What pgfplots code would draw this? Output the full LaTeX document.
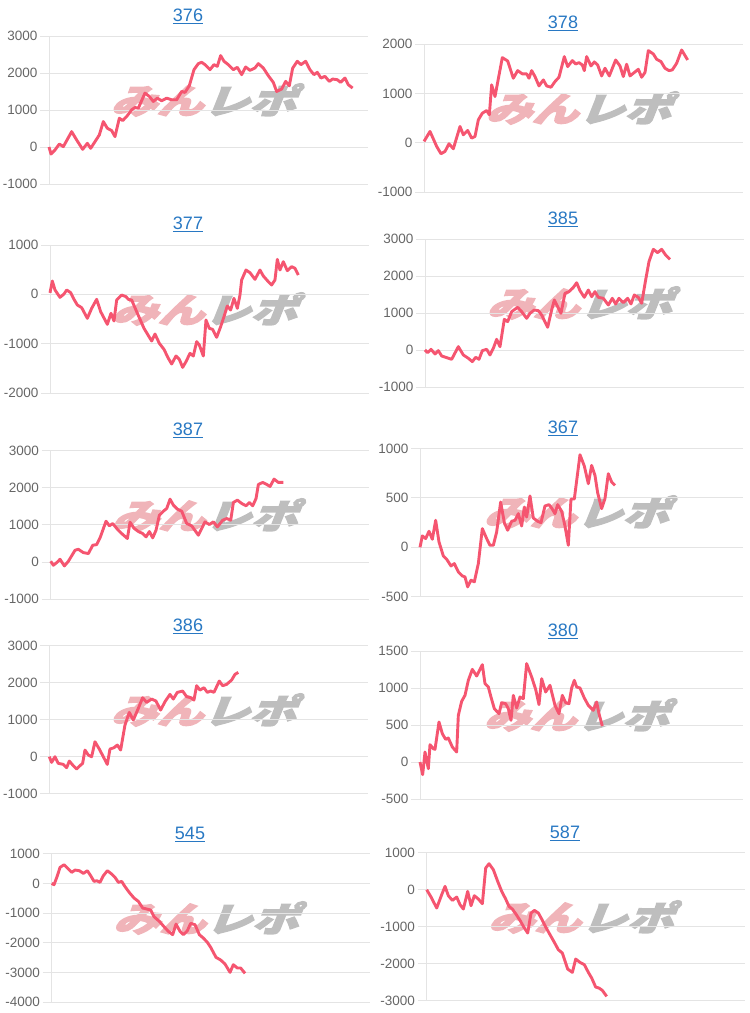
\documentclass[border=0pt]{standalone}
\usepackage{pgfplots}
\pgfplotsset{compat=1.18}
\usepackage{fontspec}
\setmainfont{Liberation Sans}
\newfontfamily\cjk[FakeBold=4]{Noto Sans CJK JP}
\definecolor{linec}{RGB}{245,85,112}
\definecolor{gridc}{RGB}{228,228,228}
\definecolor{zeroc}{RGB}{190,190,190}
\definecolor{labc}{RGB}{102,102,102}
\definecolor{titlec}{RGB}{40,120,195}
\definecolor{wmpink}{RGB}{240,180,185}
\definecolor{wmgray}{RGB}{190,190,190}
\pgfplotsset{mini/.style={scale only axis, anchor=south west,
  axis x line=none, axis y line=left, axis line style={-},
  y axis line style={draw=gridc, line width=0.8pt},
  xtick=\empty, ymajorgrids,
  major grid style={draw=gridc, line width=0.8pt},
  tick align=outside, major tick length=9pt,
  ytick style={draw=gridc, line width=0.8pt},
  yticklabel style={font=\fontsize{13.5}{15}\selectfont, text=labc, inner sep=2.5pt},
  extra y ticks={0}, extra y tick labels={},
  extra y tick style={grid style={draw=zeroc, line width=0.9pt}},
  clip=false},
  dline/.style={linec, line width=2.9pt, line join=round, no markers}}
\newcommand\wm[2]{\node[xslant=0.4, yscale=0.78, xscale=1.05, inner sep=0, font=\cjk\bfseries\fontsize{44}{44}\selectfont] at (#1pt,-#2pt) {\textcolor{wmpink}{みん}\textcolor{wmgray}{レポ}};}
\newcommand\ttl[3]{\node[anchor=base, inner sep=0, text=titlec, font=\fontsize{18}{20}\selectfont] at (#1pt,-#2pt) {\underline{#3}};}
\begin{document}
\begin{tikzpicture}
\useasboundingbox (0,0) rectangle (750pt,-1013pt);
\wm{208.5}{100}
\wm{583.5}{108}
\wm{209.5}{309}
\wm{584.5}{303}
\wm{210}{515}
\wm{581.5}{512}
\wm{208.5}{710}
\wm{581.5}{715}
\wm{211}{918}
\wm{586}{917}
\ttl{188}{21.5}{376}
\ttl{563}{28.8}{378}
\ttl{188}{229.8}{377}
\ttl{563}{224.8}{385}
\ttl{188}{435.5}{387}
\ttl{563}{433.2}{367}
\ttl{188}{631.5}{386}
\ttl{563}{636.5}{380}
\ttl{190}{839.2}{545}
\ttl{565}{838.2}{587}
% 376
\begin{axis}[mini, at={(49pt,-184pt)}, width=319.3pt, height=148pt, xmin=147, xmax=1105, ymin=-1000, ymax=3000, ytick={-1000,0,1000,2000,3000}, yticklabels={-1000,0,1000,2000,3000}]
\addplot[dline] coordinates {(147,0)(153,-190)(165,-80)(178,80)(190,10)(215,416)(230,190)(248,-63)(262,100)(272,-36)(285,145)(298,326)(310,688)(322,507)(335,443)(345,281)(358,778)(368,715)(380,824)(395,1004)(405,1068)(415,1050)(435,1457)(448,1367)(460,1231)(472,1321)(485,1249)(500,1321)(515,1276)(530,1276)(545,1502)(555,1475)(568,1656)(582,2090)(595,2253)(605,2290)(615,2226)(630,2090)(642,2226)(652,2181)(662,2471)(672,2317)(685,2226)(700,2090)(712,2154)(725,1955)(737,2163)(750,2072)(765,2136)(775,2253)(790,2136)(805,1928)(820,1747)(830,1502)(845,1566)(857,1774)(868,1656)(878,2130)(892,2317)(903,2226)(917,2317)(930,2090)(942,1955)(952,2018)(963,1864)(975,1910)(988,1774)(998,1837)(1012,1819)(1022,1747)(1035,1864)(1045,1683)(1058,1593)};
\end{axis}
% 378
\begin{axis}[mini, at={(424pt,-192pt)}, width=319.3pt, height=147.7pt, xmin=147, xmax=1105, ymin=-1000, ymax=2000, ytick={-1000,0,1000,2000}, yticklabels={-1000,0,1000,2000}]
\addplot[dline] coordinates {(147,27)(165,230)(185,-74)(198,-223)(210,-176)(222,-20)(235,-122)(255,331)(265,162)(278,250)(290,95)(300,128)(310,466)(322,601)(335,655)(343,568)(350,1176)(360,939)(382,1730)(398,1662)(415,1311)(428,1466)(442,1400)(455,1400)(462,1311)(470,1466)(480,1345)(492,1155)(505,1277)(515,1155)(528,1128)(540,1243)(552,1331)(568,1750)(578,1547)(592,1669)(602,1601)(612,1628)(622,1581)(628,1466)(635,1750)(648,1561)(658,1642)(668,1581)(680,1358)(690,1514)(703,1358)(722,1682)(735,1561)(745,1345)(755,1595)(765,1358)(790,1493)(800,1331)(810,1426)(820,1872)(835,1804)(845,1696)(858,1649)(870,1514)(882,1466)(892,1480)(905,1615)(920,1885)(938,1682)};
\end{axis}
% 377
\begin{axis}[mini, at={(50pt,-393pt)}, width=319.3pt, height=148pt, xmin=150, xmax=1108, ymin=-2000, ymax=1000, ytick={-2000,-1000,0,1000}, yticklabels={-2000,-1000,0,1000}]
\addplot[dline] coordinates {(150,30)(157,270)(165,88)(180,-61)(192,7)(200,88)(212,34)(222,-101)(232,-216)(245,-270)(262,-486)(275,-284)(290,-101)(302,-351)(322,-608)(333,-385)(342,-540)(350,-115)(365,-14)(378,-47)(385,-101)(395,-115)(410,-351)(432,-689)(455,-946)(465,-804)(478,-993)(492,-1115)(505,-1297)(515,-1412)(528,-1250)(538,-1318)(548,-1480)(558,-1365)(570,-1196)(580,-1250)(590,-959)(598,-1027)(610,-1250)(618,-520)(628,-689)(638,-709)(650,-871)(662,-655)(672,-453)(682,-236)(692,-318)(702,-81)(712,-284)(720,-14)(725,291)(738,493)(750,439)(765,304)(780,493)(790,372)(805,257)(815,189)(825,291)(832,709)(840,493)(850,662)(862,480)(875,561)(885,527)(895,392)};
\end{axis}
% 385
\begin{axis}[mini, at={(425pt,-387.3pt)}, width=319.3pt, height=148pt, xmin=150, xmax=1108, ymin=-1000, ymax=3000, ytick={-1000,0,1000,2000,3000}, yticklabels={-1000,0,1000,2000,3000}]
\addplot[dline] coordinates {(150,9)(158,-63)(168,27)(180,-99)(190,-9)(200,-153)(215,-198)(230,-243)(250,99)(265,-126)(280,-216)(292,-306)(302,-189)(312,-243)(322,-9)(335,27)(345,-126)(355,54)(365,297)(375,99)(388,838)(398,775)(410,1045)(428,1162)(440,1045)(455,865)(465,1000)(478,1090)(490,1072)(500,955)(518,622)(530,1090)(538,1360)(548,1180)(558,1000)(570,1540)(582,1585)(595,1700)(605,1826)(615,1612)(628,1432)(640,1630)(650,1450)(660,1585)(670,1432)(685,1405)(700,1225)(712,1405)(722,1252)(732,1405)(745,1288)(758,1405)(768,1252)(778,1495)(790,1432)(800,1270)(812,1900)(822,2395)(835,2730)(848,2640)(860,2730)(872,2575)(885,2460)};
\end{axis}
% 387
\begin{axis}[mini, at={(50.7pt,-599pt)}, width=318.7pt, height=148.3pt, xmin=152, xmax=1108, ymin=-1000, ymax=3000, ytick={-1000,0,1000,2000,3000}, yticklabels={-1000,0,1000,2000,3000}]
\addplot[dline] coordinates {(152,18)(160,-90)(170,-18)(180,72)(193,-108)(205,18)(225,315)(235,342)(250,252)(265,225)(278,450)(290,468)(300,649)(318,1099)(328,973)(338,1036)(352,883)(365,766)(382,631)(390,1072)(402,910)(415,820)(428,766)(438,676)(448,820)(458,649)(468,856)(478,1261)(490,1369)(500,1441)(510,1694)(520,1532)(532,1423)(545,1369)(560,1036)(575,973)(595,721)(615,1081)(628,1009)(640,1081)(652,946)(668,1126)(680,1171)(692,1126)(700,1604)(712,1667)(725,1577)(738,1514)(748,1604)(758,1514)(768,1712)(775,2090)(788,2144)(800,2090)(810,2036)(822,2234)(835,2144)(850,2144)};
\end{axis}
% 367
\begin{axis}[mini, at={(420pt,-596.7pt)}, width=323.3pt, height=148.3pt, xmin=135, xmax=1105, ymin=-500, ymax=1000, ytick={-500,0,500,1000}, yticklabels={-500,0,500,1000}]
\addplot[dline] coordinates {(135,0)(142,115)(152,88)(162,162)(172,81)(182,273)(192,54)(205,-88)(215,-121)(228,-189)(238,-165)(250,-249)(262,-290)(270,-300)(278,-401)(288,-333)(298,-350)(310,-165)(322,189)(335,88)(345,20)(355,20)(365,155)(377,458)(388,249)(398,172)(410,263)(420,273)(430,340)(440,215)(448,407)(455,306)(465,519)(475,296)(488,263)(498,249)(510,418)(522,431)(530,397)(540,340)(548,431)(560,364)(570,215)(580,20)(588,488)(598,488)(615,936)(628,822)(640,643)(650,828)(660,727)(668,552)(680,391)(690,492)(700,744)(710,660)(720,626)};
\end{axis}
% 386
\begin{axis}[mini, at={(49.3pt,-793.7pt)}, width=319pt, height=148pt, xmin=148, xmax=1105, ymin=-1000, ymax=3000, ytick={-1000,0,1000,2000,3000}, yticklabels={-1000,0,1000,2000,3000}]
\addplot[dline] coordinates {(148,0)(155,-153)(165,0)(175,-180)(190,-207)(200,-297)(208,-117)(220,-243)(230,-333)(240,-243)(248,-180)(255,180)(265,45)(275,0)(285,405)(298,207)(310,0)(322,-207)(330,207)(342,243)(352,315)(362,180)(375,856)(388,1198)(400,991)(415,1306)(428,1595)(440,1468)(455,1558)(468,1505)(482,1261)(495,1486)(510,1685)(520,1558)(532,1739)(548,1775)(560,1622)(572,1595)(582,1532)(590,1919)(600,1802)(612,1865)(622,1739)(632,1775)(642,1739)(658,2045)(668,1919)(680,1955)(695,2072)(705,2225)(715,2279)};
\end{axis}
% 380
\begin{axis}[mini, at={(420pt,-799pt)}, width=323.3pt, height=148pt, xmin=135, xmax=1105, ymin=-500, ymax=1500, ytick={-500,0,500,1000,1500}, yticklabels={-500,0,500,1000,1500}]
\addplot[dline] coordinates {(135,0)(143,-171)(150,135)(160,-90)(165,234)(175,180)(180,171)(192,541)(202,383)(212,306)(220,324)(232,203)(245,135)(250,631)(260,820)(270,901)(280,1104)(292,1252)(305,1162)(322,1315)(330,1059)(340,1014)(348,878)(358,721)(372,653)(380,802)(392,788)(400,721)(408,563)(415,901)(425,730)(435,878)(445,856)(455,1329)(470,1149)(482,982)(492,775)(500,1126)(512,946)(525,1036)(540,766)(552,653)(562,901)(572,802)(582,788)(590,1000)(598,1104)(605,1014)(615,1000)(628,865)(640,766)(655,698)(665,811)(672,653)(682,486)};
\end{axis}
% 545
\begin{axis}[mini, at={(51.7pt,-1002pt)}, width=318.3pt, height=148.3pt, xmin=155, xmax=1110, ymin=-4000, ymax=1000, ytick={-4000,-3000,-2000,-1000,0,1000}, yticklabels={-4000,-3000,-2000,-1000,0,1000}]
\addplot[dline] coordinates {(155,0)(162,-45)(172,258)(180,539)(192,629)(202,517)(215,371)(225,449)(238,427)(250,337)(262,427)(272,258)(282,67)(290,90)(300,34)(310,258)(322,427)(335,315)(345,202)(355,34)(365,67)(375,-112)(390,-337)(402,-494)(415,-607)(428,-832)(440,-865)(452,-899)(462,-1124)(478,-1281)(492,-1461)(505,-1618)(518,-1730)(528,-1371)(540,-1618)(550,-1730)(562,-1596)(572,-1348)(585,-1393)(598,-1730)(610,-1843)(622,-1989)(632,-2157)(648,-2494)(662,-2584)(675,-2719)(690,-3000)(700,-2742)(712,-2854)(722,-2854)(735,-3034)};
\end{axis}
% 587
\begin{axis}[mini, at={(426.7pt,-1000.7pt)}, width=318.3pt, height=148pt, xmin=155, xmax=1110, ymin=-3000, ymax=1000, ytick={-3000,-2000,-1000,0,1000}, yticklabels={-3000,-2000,-1000,0,1000}]
\addplot[dline] coordinates {(155,0)(168,-198)(185,-495)(200,-135)(210,90)(220,-162)(232,-288)(245,-198)(255,-405)(265,-523)(278,-45)(288,-432)(298,-162)(310,-252)(322,-378)(332,586)(342,703)(355,541)(368,225)(380,-45)(392,-252)(402,-450)(412,-523)(422,-649)(435,-829)(448,-1036)(458,-1171)(468,-631)(478,-559)(490,-631)(500,-793)(512,-1009)(525,-1216)(538,-1423)(550,-1622)(562,-1712)(578,-2144)(592,-2234)(602,-1874)(615,-1964)(628,-2027)(640,-2234)(650,-2387)(662,-2631)(672,-2658)(682,-2721)(695,-2883)};
\end{axis}
\end{tikzpicture}
\end{document}
